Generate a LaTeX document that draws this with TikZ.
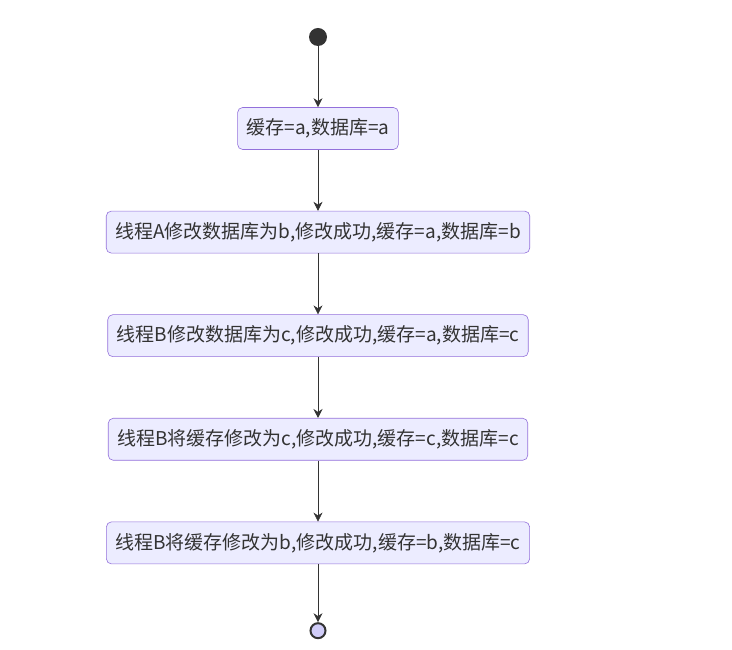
\documentclass[tikz,border=0pt]{standalone}
\usepackage{fontspec}
\setmainfont{Noto Sans CJK SC}
\usetikzlibrary{arrows.meta,positioning}
\definecolor{boxfill}{HTML}{ECECFF}
\definecolor{boxline}{HTML}{9370DB}
\definecolor{ink}{HTML}{333333}
\definecolor{endfill}{HTML}{D0CCF8}

\begin{document}
\begin{tikzpicture}[
  font=\fontsize{19}{22}\selectfont, text=ink,
  state/.style={draw=boxline, fill=boxfill, rounded corners=5pt, minimum height=42pt,
                inner xsep=9pt, semithick},
  arr/.style={-{Stealth[length=9pt,width=9pt]}, ink, semithick},
  node distance=61pt]
\useasboundingbox (0,0) rectangle (732pt,650pt);

% start and states
\node[circle, fill=ink, minimum size=18pt, inner sep=0pt] (init) at (318pt,613pt) {};
\node[state, below=of init] (s1) {缓存=a,数据库=a};
\node[state, below=of s1] (s2) {线程A修改数据库为b,修改成功,缓存=a,数据库=b};
\node[state, below=of s2] (s3) {线程B修改数据库为c,修改成功,缓存=a,数据库=c};
\node[state, below=of s3] (s4) {线程B将缓存修改为c,修改成功,缓存=c,数据库=c};
\node[state, below=of s4] (s5) {线程B将缓存修改为b,修改成功,缓存=b,数据库=c};
\node[circle, draw=ink, line width=2pt, fill=endfill, minimum size=15pt, inner sep=0pt,
      below=58pt of s5] (fin) {};

\draw[arr] (init)--(s1); \draw[arr] (s1)--(s2); \draw[arr] (s2)--(s3);
\draw[arr] (s3)--(s4); \draw[arr] (s4)--(s5); \draw[arr] (s5)--(fin);
\end{tikzpicture}
\end{document}
